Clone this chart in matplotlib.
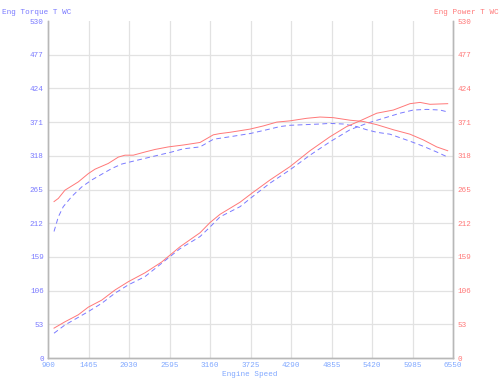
import matplotlib
matplotlib.use("Agg")
import matplotlib.pyplot as plt

# ---- data ----
x_ticks = [900, 1465, 2030, 2595, 3160, 3725, 4290, 4855, 5420, 5985, 6550]
y_ticks = [0, 53, 106, 159, 212, 265, 318, 371, 424, 477, 530]

# solid red curves
red_torque_rpm = [984, 1044, 1137, 1323, 1462, 1556, 1741, 1881, 1974, 2090, 2253, 2393,
                  2578, 2788, 3021, 3206, 3300, 3439, 3718, 3904, 4091, 4276, 4509, 4695,
                  4880, 5113, 5299, 5486, 5718, 5950, 6136, 6323, 6476]
red_torque = [246, 251, 264, 277, 290, 297, 306, 316, 319, 319, 324, 328,
              332, 335, 339, 351, 353, 355, 360, 365, 371, 373, 377, 379,
              378, 374, 372, 367, 359, 352, 343, 332, 326]

red_power_rpm = [984, 1137, 1323, 1462, 1649, 1835, 2020, 2253, 2486, 2742, 3021, 3160,
                 3300, 3579, 3742, 3997, 4276, 4555, 4834, 5067, 5253, 5486, 5718, 5950,
                 6090, 6229, 6476]
red_power = [47, 57, 68, 80, 91, 107, 120, 134, 151, 175, 197, 213,
             226, 245, 259, 280, 301, 326, 348, 364, 373, 385, 390, 400,
             402, 399, 400]

# dashed blue curves
blue_torque_rpm = [984, 1044, 1113, 1231, 1370, 1510, 1649, 1789, 1928, 2068, 2253, 2439,
                   2626, 2788, 3021, 3206, 3439, 3718, 3952, 4137, 4276, 4695, 4834, 5020,
                   5206, 5346, 5486, 5671, 5950, 6136, 6323, 6476]
blue_torque = [199, 222, 238, 254, 269, 280, 289, 298, 305, 309, 314, 319,
               324, 329, 332, 344, 348, 353, 359, 364, 366, 368, 369, 368,
               364, 359, 355, 352, 341, 333, 324, 316]

blue_power_rpm = [984, 1137, 1323, 1462, 1649, 1835, 2020, 2253, 2486, 2742, 3021, 3160,
                  3300, 3579, 3812, 3997, 4276, 4555, 4834, 5113, 5346, 5578, 5811, 5996,
                  6183, 6369, 6476]
blue_power = [39, 52, 64, 73, 86, 102, 115, 128, 149, 172, 191, 206,
              222, 238, 259, 275, 296, 319, 340, 359, 369, 377, 385, 390,
              391, 390, 387]

left_title = "Eng Torque T WC"
right_title = "Eng Power T WC"
x_title = "Engine Speed"

# ---- styling ----
FONT = "Liberation Mono"
FS = 5.5
RED = "#ff7878"
BLUE = "#7a7aff"
XBLUE = "#80a8ff"
GRID = "#e2e2e2"
SPINE = "#b8b8b8"

fig = plt.figure(figsize=(5.0, 3.87), dpi=100)
ax = fig.add_axes([0.096, 0.0749, 0.81, 0.8708])
ax2 = ax.twinx()

for a in (ax, ax2):
    a.set_xlim(x_ticks[0], x_ticks[-1])
    a.set_ylim(y_ticks[0], y_ticks[-1])
    a.spines['top'].set_visible(False)
    for s in ('left', 'right', 'bottom'):
        a.spines[s].set_color(SPINE)
        a.spines[s].set_linewidth(1.0)

ax.set_xticks(x_ticks)
ax.set_yticks(y_ticks)
ax2.set_yticks(y_ticks)
ax.set_xticklabels([str(v) for v in x_ticks], fontfamily=FONT, fontsize=FS, color=XBLUE)
ax.set_yticklabels([str(v) for v in y_ticks], fontfamily=FONT, fontsize=FS, color=BLUE)
ax2.set_yticklabels([str(v) for v in y_ticks], fontfamily=FONT, fontsize=FS, color=RED)
ax.tick_params(axis='both', length=0, pad=3)
ax2.tick_params(axis='y', length=0, pad=3)

ax.grid(True, color=GRID, linewidth=0.9)
ax.set_axisbelow(True)
fig.canvas.draw()
for gl in ax.yaxis.get_gridlines():
    y = gl.get_ydata()[0]
    if y in (y_ticks[0], y_ticks[-1]):
        gl.set_visible(False)
for gl in ax.xaxis.get_gridlines():
    x = gl.get_xdata()[0]
    if x in (x_ticks[0], x_ticks[-1]):
        gl.set_visible(False)

ax.plot(blue_torque_rpm, blue_torque, color=BLUE, lw=0.7, dashes=(5, 3.5))
ax.plot(blue_power_rpm, blue_power, color=BLUE, lw=0.7, dashes=(5, 3.5))
ax2.plot(red_torque_rpm, red_torque, color=RED, lw=0.7)
ax2.plot(red_power_rpm, red_power, color=RED, lw=0.7)

fig.text(2 / 500, 1 - 13 / 387, left_title, fontfamily=FONT, fontsize=FS, color=BLUE,
         ha='left', va='center')
fig.text(499 / 500, 1 - 13 / 387, right_title, fontfamily=FONT, fontsize=FS, color=RED,
         ha='right', va='center')
fig.text(250 / 500, 1 - 375 / 387, x_title, fontfamily=FONT, fontsize=FS, color=XBLUE,
         ha='center', va='center')

fig.savefig("out.png", dpi=100)
